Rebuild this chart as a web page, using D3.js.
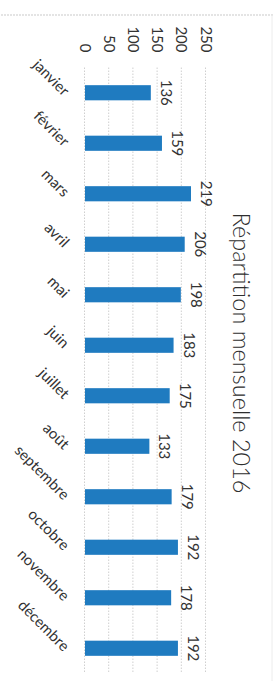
<!DOCTYPE html>
<html>
<head>
<meta charset="utf-8">
<script src="https://cdn.jsdelivr.net/npm/d3@7"></script>
<style>
  body { margin: 0; background: #fff; }
  svg { display: block; }
  text { font-family: Lato, "Liberation Sans", sans-serif; fill: #333; }
  .title { font-weight: 300; fill: #2e2e2e; }
</style>
</head>
<body>
<svg id="chart" width="279" height="681"></svg>
<script>
const width = 279;
const height = 681;

// the chart is drawn "lying down": built in its own frame then turned a quarter turn
const frameW = height;
const frameH = width;

let months = ["janvier", "février", "mars", "avril", "mai", "juin",
  "juillet", "août", "septembre", "octobre", "novembre", "décembre"];
let counts = [136, 159, 219, 206, 198, 183, 175, 133, 179, 192, 178, 192];
let valueTicks = [0, 50, 100, 150, 200, 250];
let titleText = "Répartition mensuelle 2016";

const margin = {
  top: 73,
  bottom: 85,
  left: 67.5,
  right: 7.5
};

let svg = d3.select("svg#chart");
const frame = svg.append("g")
  .attr("transform", translate(width, 0) + " rotate(90)");

/* SCALES */
const scales = {
  x: d3.scaleBand(),
  y: d3.scaleLinear()
};

scales.x.domain(months);
scales.x.range([margin.left, frameW - margin.right]);
scales.x.paddingInner(0.7);
scales.x.paddingOuter(0.35);

scales.y.domain([0, 250]);
scales.y.range([frameH - margin.bottom, margin.top]);

/* BORDER */
frame.append("line")
  .attr("x1", 15).attr("x2", 15)
  .attr("y1", 6).attr("y2", frameH)
  .attr("stroke", "#c9c9c9")
  .attr("stroke-dasharray", "2,1");

frame.append("line")
  .attr("x1", 15).attr("x2", frameW)
  .attr("y1", 7).attr("y2", 7)
  .attr("stroke", "#ececec");

/* AXIS + GRID */
const plotLength = scales.x.range()[1] - scales.x.range()[0];

const yAxis = d3.axisLeft(scales.y)
  .tickValues(valueTicks)
  .tickSizeInner(-plotLength)
  .tickSizeOuter(0)
  .tickPadding(15);

const yGroup = frame.append("g")
  .attr("id", "y-axis")
  .attr("transform", translate(margin.left, 0))
  .call(yAxis);

yGroup.select(".domain").remove();
yGroup.selectAll("line")
  .attr("stroke", "#cfcfcf")
  .attr("stroke-dasharray", "1.5,1.5");
yGroup.selectAll("text")
  .style("font-size", "15px")
  .attr("fill", "#333");

/* BARS */
frame.append("g").attr("id", "bars")
  .selectAll("rect")
  .data(months)
  .enter()
  .append("rect")
  .attr("x", d => scales.x(d))
  .attr("y", (d, i) => scales.y(counts[i]))
  .attr("width", scales.x.bandwidth())
  .attr("height", (d, i) => scales.y(0) - scales.y(counts[i]))
  .attr("fill", "#1f7bc0");

/* DATA LABELS */
frame.append("g").attr("id", "values")
  .selectAll("text")
  .data(months)
  .enter()
  .append("text")
  .attr("x", d => scales.x(d) + scales.x.bandwidth() / 2)
  .attr("y", (d, i) => scales.y(counts[i]) - 10)
  .attr("text-anchor", "middle")
  .style("font-size", "15px")
  .text((d, i) => counts[i]);

/* CATEGORY LABELS */
frame.append("g").attr("id", "months")
  .selectAll("text")
  .data(months)
  .enter()
  .append("text")
  .attr("transform", d => translate(scales.x(d) + scales.x.bandwidth() / 2 + 4, frameH - margin.bottom + 22) + " rotate(-45)")
  .attr("text-anchor", "end")
  .style("font-size", "15px")
  .text(d => d);

/* TITLE */
frame.append("text")
  .attr("class", "title")
  .attr("x", 353)
  .attr("y", 46)
  .attr("text-anchor", "middle")
  .style("font-size", "23.5px")
  .text(titleText);

function translate(x, y) {
  return 'translate(' + String(x) + ',' + String(y) + ')';
}
</script>
</body>
</html>
